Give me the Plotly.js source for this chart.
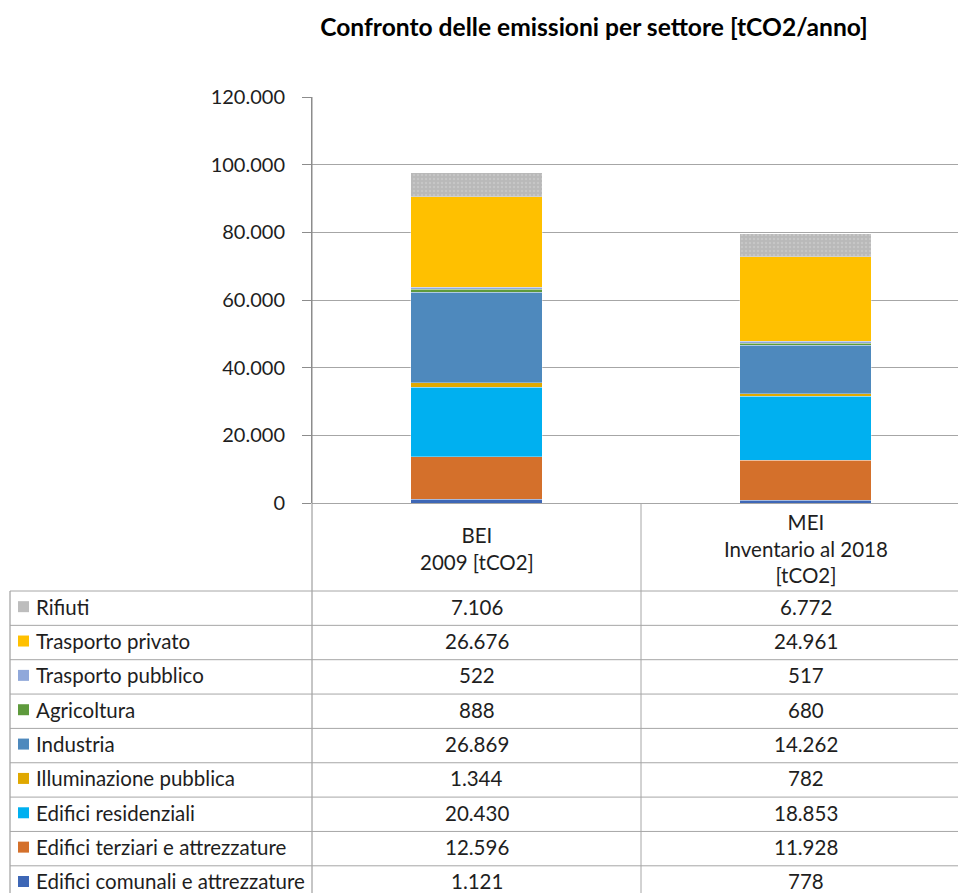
<!DOCTYPE html>
<html>
<head>
<meta charset="utf-8">
<script src="https://cdn.plot.ly/plotly-3.0.1.min.js"></script>
<style>html,body{margin:0;padding:0;background:#fff;}#chart{width:958px;height:893px;}</style>
</head>
<body>
<div id="chart"></div>
<script>
// ---- data ----
const categories = ["BEI<br>2009 [tCO2]", "MEI<br>Inventario al 2018<br>[tCO2]"];
// sectors listed bottom-to-top of the stack
const sectors = [
  "Edifici comunali e attrezzature",
  "Edifici terziari e attrezzature",
  "Edifici residenziali",
  "Illuminazione pubblica",
  "Industria",
  "Agricoltura",
  "Trasporto pubblico",
  "Trasporto privato",
  "Rifiuti"
];
const beiValues = [1121, 12596, 20430, 1344, 26869, 888, 522, 26676, 7106];
const meiValues = [778, 11928, 18853, 782, 14262, 680, 517, 24961, 6772];
const yTicks = [0, 20000, 40000, 60000, 80000, 100000, 120000];

// ---- styles ----
const colors = ["#3E67B6", "#D4702B", "#00B0F0", "#E0A800", "#4E89BD", "#5E9A3C", "#90A8DA", "#FFC000", "#BDBDBD"];
const FONT = "Lato, sans-serif";
const TXT = "#1e1e1e";
const TS = 20.5;

// plot area in pixels
const L = 312, R = 958, T = 97, B = 503;
const px2x = p => (p - L) / (R - L);
const py2y = p => (B - p) / (B - T);

function fmt(v) {
  return String(v).replace(/\B(?=(\d{3})+(?!\d))/g, ".");
}

const traces = sectors.map((s, i) => {
  const tr = {
    type: "bar",
    name: s,
    x: categories,
    y: [beiValues[i], meiValues[i]],
    width: 0.4,
    marker: { color: colors[i], line: { color: "rgba(255,255,255,0.55)", width: 0.6 } },
    hoverinfo: "name+y",
    showlegend: false
  };
  if (s === "Rifiuti") {
    tr.marker.pattern = { shape: ".", bgcolor: "#B9B9B9", fgcolor: "#C6C6C6", size: 4, solidity: 0.3 };
  }
  return tr;
});

const shapes = [];
const annotations = [];
const gridCol = "#A6A6A6";

// vertical table lines
shapes.push({ type: "line", xref: "paper", yref: "paper", x0: px2x(L), x1: px2x(L), y0: py2y(T), y1: py2y(900), line: { color: "#8C8C8C", width: 1 } });
shapes.push({ type: "line", xref: "paper", yref: "paper", x0: px2x(641), x1: px2x(641), y0: py2y(B), y1: py2y(900), line: { color: gridCol, width: 1 } });
shapes.push({ type: "line", xref: "paper", yref: "paper", x0: px2x(10), x1: px2x(10), y0: py2y(591), y1: py2y(900), line: { color: "#8C8C8C", width: 1 } });

// header labels
categories.forEach((c, j) => {
  annotations.push({
    xref: "x", yref: "paper", x: c, y: py2y(548), xanchor: "center", yanchor: "middle",
    text: c, showarrow: false, align: "center",
    font: { family: FONT, size: TS, color: TXT }
  });
});

// rows (top-down: reverse of stacking)
const rowTop = 591, rowH = 34.35;
const n = sectors.length;
for (let r = 0; r < n; r++) {
  const i = n - 1 - r;
  const y0 = rowTop + r * rowH;
  const yc = y0 + rowH / 2;
  const yt = yc - 1.5;
  shapes.push({ type: "line", xref: "paper", yref: "paper", x0: px2x(10), x1: px2x(R), y0: py2y(y0), y1: py2y(y0), line: { color: gridCol, width: 1 } });
  shapes.push({ type: "rect", xref: "paper", yref: "paper", x0: px2x(18), x1: px2x(29), y0: py2y(yt - 5.5), y1: py2y(yt + 5.5), line: { width: 0 }, fillcolor: colors[i] });
  annotations.push({
    xref: "paper", yref: "paper", x: px2x(34), y: py2y(yt), xanchor: "left", yanchor: "middle",
    text: sectors[i], showarrow: false, font: { family: FONT, size: TS, color: TXT }
  });
  [beiValues[i], meiValues[i]].forEach((v, j) => {
    annotations.push({
      xref: "x", yref: "paper", x: categories[j], y: py2y(yt), xanchor: "center", yanchor: "middle",
      text: fmt(v), showarrow: false, font: { family: FONT, size: TS, color: TXT }
    });
  });
}
shapes.push({ type: "line", xref: "paper", yref: "paper", x0: px2x(10), x1: px2x(R), y0: py2y(rowTop + n * rowH), y1: py2y(rowTop + n * rowH), line: { color: gridCol, width: 1 } });

const layout = {
  width: 958, height: 893,
  margin: { l: L, r: 958 - R, t: T, b: 893 - B, pad: 0 },
  paper_bgcolor: "#fff", plot_bgcolor: "#fff",
  separators: ",.",
  barmode: "stack",
  title: {
    text: "<b>Confronto delle emissioni per settore [tCO2/anno]</b>",
    xref: "container", yref: "container", x: 594 / 958, y: 1 - 27 / 893,
    xanchor: "center", yanchor: "middle",
    font: { family: FONT, size: 24.6, color: "#000" }
  },
  xaxis: {
    type: "category",
    range: [-0.5, -0.5 + (R - L) / 329],
    showticklabels: false, showgrid: false, zeroline: false, showline: false, ticks: ""
  },
  yaxis: {
    range: [0, 120000],
    tickvals: yTicks,
    tickformat: ",d",
    ticks: "outside", ticklen: 9, tickcolor: "#8C8C8C", tickwidth: 1,
    showgrid: true, gridcolor: gridCol, gridwidth: 1,
    zeroline: true, zerolinecolor: gridCol, zerolinewidth: 1,
    showline: true, linecolor: "#8C8C8C", linewidth: 1,
    tickfont: { family: FONT, size: 20, color: TXT },
    ticklabelstandoff: 13
  },
  shapes: shapes,
  annotations: annotations,
  hovermode: "closest"
};

Plotly.newPlot("chart", traces, layout, { displayModeBar: false });
</script>
</body>
</html>
